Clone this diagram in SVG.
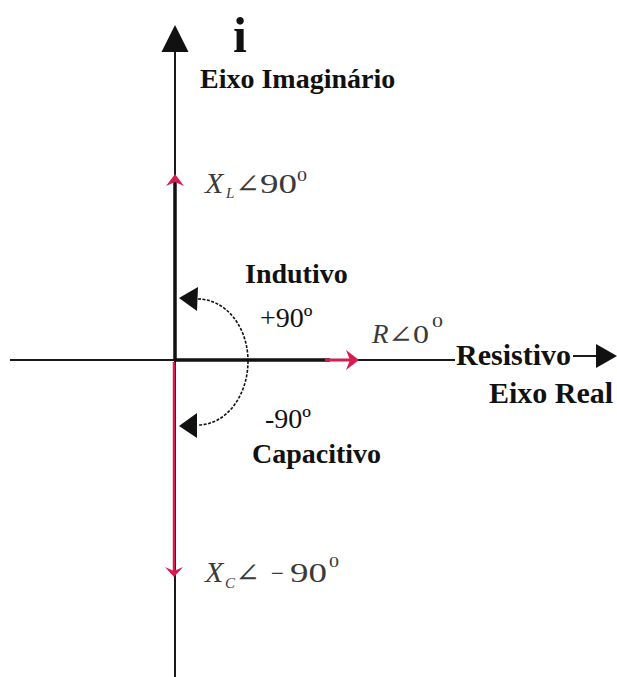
<svg xmlns="http://www.w3.org/2000/svg" width="617" height="677" viewBox="0 0 617 677">
<style>
.b{font-family:"Liberation Serif","Times New Roman",serif;font-weight:bold;font-size:28px;fill:#111}
.r{font-family:"Liberation Serif","Times New Roman",serif;font-size:28px;fill:#111}
.m{font-family:"Liberation Serif","Times New Roman",serif;fill:#3a3a3a}
.mi{font-family:"Liberation Serif","Times New Roman",serif;font-style:italic;fill:#3a3a3a}
.ang{font-family:"DejaVu Serif","Liberation Serif",serif;fill:#3a3a3a}
.ax{stroke:#1a1a1a;stroke-width:2;fill:none}
.red{fill:#d81b50}
</style>
<rect width="617" height="677" fill="#fff"/>
<g id="connectors">
  <g id="axis-imag">
    <line class="ax" x1="175" y1="50" x2="175" y2="677"/>
    <polygon points="175,25 161.5,52 188.5,52" fill="#111"/>
  </g>
  <g id="axis-real">
    <line class="ax" x1="10" y1="360" x2="455" y2="360"/>
    <line class="ax" x1="573" y1="356" x2="598" y2="356"/>
    <polygon points="617,356 596,344 596,368" fill="#111"/>
  </g>
  <g id="vec-xl">
    <line x1="175" y1="360" x2="175" y2="182" stroke="#111" stroke-width="3.5"/>
    <polygon class="red" points="175,174 184,186 175,182 166,186"/>
  </g>
  <g id="vec-xc">
    <line x1="174" y1="362" x2="174" y2="572" stroke="#d81b50" stroke-width="2.5"/>
    <polygon class="red" points="174,577 183,567 174,571 165,567"/>
  </g>
  <g id="vec-r">
    <line x1="175" y1="360" x2="330" y2="360" stroke="#111" stroke-width="3.5"/>
    <line x1="325" y1="360" x2="352" y2="360" stroke="#d81b50" stroke-width="3"/>
    <polygon class="red" points="359,360 346,350 350,360 346,370"/>
  </g>
  <g id="arc-plus90">
    <path d="M198,299 A50,62 0 0 1 248,361" fill="none" stroke="#111" stroke-width="1.6" stroke-dasharray="3,1.5"/>
    <polygon points="179,298 198,287 197,311" fill="#111"/>
  </g>
  <g id="arc-minus90">
    <path d="M248,361 A50,64 0 0 1 198,425" fill="none" stroke="#111" stroke-width="1.6" stroke-dasharray="3,1.5"/>
    <polygon points="179,426 197,413 197,438" fill="#111"/>
  </g>
</g>
<g id="label-i"><text class="b" x="233" y="52" style="font-size:50px">i</text></g>
<g id="label-eixo-imaginario"><text class="b" x="200" y="88">Eixo Imaginário</text></g>
<g id="label-xl">
  <text class="mi" x="205" y="193" font-size="30">X</text>
  <text class="mi" x="226" y="198" font-size="15">L</text>
  <text class="ang" x="235" y="193" font-size="26" textLength="25" lengthAdjust="spacingAndGlyphs">∠</text>
  <text class="m" x="260" y="193" font-size="27" textLength="37" lengthAdjust="spacingAndGlyphs">90</text>
  <text class="m" x="297" y="181" font-size="15" textLength="10" lengthAdjust="spacingAndGlyphs">0</text>
</g>
<g id="label-indutivo">
  <text class="b" x="245" y="283">Indutivo</text>
  <text class="r" x="260" y="327">+90º</text>
</g>
<g id="label-r">
  <text class="mi" x="372" y="343" font-size="27">R</text>
  <text class="ang" x="388" y="343" font-size="25" textLength="25" lengthAdjust="spacingAndGlyphs">∠</text>
  <text class="m" x="413" y="343" font-size="26" textLength="16" lengthAdjust="spacingAndGlyphs">0</text>
  <text class="m" x="432" y="327" font-size="15" textLength="11" lengthAdjust="spacingAndGlyphs">0</text>
</g>
<g id="label-resistivo">
  <text class="b" x="456" y="365" style="font-size:30px">Resistivo</text>
  <text class="b" x="489" y="403" style="font-size:30px">Eixo Real</text>
</g>
<g id="label-capacitivo">
  <text class="r" x="265" y="428">-90º</text>
  <text class="b" x="252" y="463">Capacitivo</text>
</g>
<g id="label-xc">
  <text class="mi" x="205" y="582" font-size="30">X</text>
  <text class="mi" x="225" y="588" font-size="15">C</text>
  <text class="ang" x="235" y="582" font-size="26" textLength="25" lengthAdjust="spacingAndGlyphs">∠</text>
  <text class="m" x="271" y="582" font-size="26" textLength="13" lengthAdjust="spacingAndGlyphs">−</text>
  <text class="m" x="290" y="582" font-size="27" textLength="37" lengthAdjust="spacingAndGlyphs">90</text>
  <text class="m" x="329" y="567" font-size="15" textLength="10" lengthAdjust="spacingAndGlyphs">0</text>
</g>
</svg>
